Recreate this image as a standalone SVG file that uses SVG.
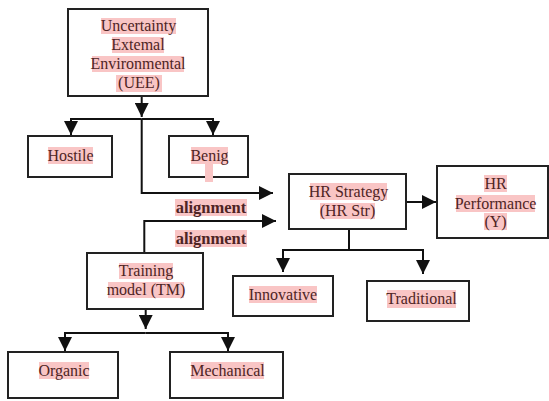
<svg xmlns="http://www.w3.org/2000/svg" width="549" height="401" viewBox="0 0 549 401">
<style>
.box{fill:#fff;stroke:#222;stroke-width:2}
.hl{fill:#f9c5c5}
.t{font-family:"Liberation Serif","Times New Roman",serif;font-size:16px;fill:#4e2424;text-anchor:middle}
.b{font-weight:bold;font-size:16.5px}
.c{fill:none;stroke:#111;stroke-width:2}
</style>
<defs>
<marker id="ah" markerUnits="userSpaceOnUse" markerWidth="14" markerHeight="14" refX="14" refY="7" orient="auto">
<path d="M0,0 L14,7 L0,14 z" fill="#111"/>
</marker>
</defs>
<rect width="549" height="401" fill="#fff"/>
<g id="connectors">
<path class="c" d="M141.7,96 V117" marker-end="url(#ah)"/>
<path class="c" d="M141.7,119 H71 V135" marker-end="url(#ah)"/>
<path class="c" d="M141.7,119 H213 V135" marker-end="url(#ah)"/>
<path class="c" d="M141.7,119 V193 H273" marker-end="url(#ah)"/>
<path class="c" d="M144.3,253 V221 H276" marker-end="url(#ah)"/>
<path class="c" d="M406,202 H436" marker-end="url(#ah)"/>
<path class="c" d="M349,229 V250 H283 V272" marker-end="url(#ah)"/>
<path class="c" d="M349,250 H423 V274" marker-end="url(#ah)"/>
<path class="c" d="M145.7,309 V329" marker-end="url(#ah)"/>
<path class="c" d="M145.7,333 H65 V351" marker-end="url(#ah)"/>
<path class="c" d="M145.7,333 H228 V351" marker-end="url(#ah)"/>
</g>
<g id="uee">
<rect class="box" x="68" y="9" width="140" height="87"/>
<rect class="hl" x="101" y="18" width="75" height="16"/>
<rect class="hl" x="112" y="37" width="52" height="16"/>
<rect class="hl" x="92" y="56" width="92" height="16"/>
<rect class="hl" x="116" y="75" width="46" height="17"/>
<text class="t" x="138.5" y="31">Uncertainty</text>
<text class="t" x="138" y="50">Extemal</text>
<text class="t" x="138" y="69">Environmental</text>
<text class="t" x="139" y="88">(UEE)</text>
</g>
<g id="hostile">
<rect class="box" x="28" y="136" width="84" height="41"/>
<rect class="hl" x="48" y="147" width="45" height="17"/>
<text class="t" x="70.5" y="160.5">Hostile</text>
</g>
<g id="benig">
<rect class="box" x="169" y="136" width="79" height="41"/>
<rect class="hl" x="191" y="147" width="37" height="17"/>
<rect class="hl" x="205" y="164" width="8" height="18"/>
<text class="t" x="209.5" y="160.5">Benig</text>
</g>
<g id="alignment-labels">
<rect class="hl" x="175" y="199" width="72" height="17"/>
<rect class="hl" x="175" y="230" width="72" height="17"/>
<text class="t b" x="211" y="213">alignment</text>
<text class="t b" x="211" y="244">alignment</text>
</g>
<g id="hrstr">
<rect class="box" x="289" y="174" width="117" height="55"/>
<rect class="hl" x="310" y="183" width="77" height="17"/>
<rect class="hl" x="320" y="203" width="55" height="16"/>
<text class="t" x="348.5" y="196.5">HR Strategy</text>
<text class="t" x="347.5" y="215.5">(HR Str)</text>
</g>
<g id="hrperf">
<rect class="box" x="437" y="166" width="111" height="72"/>
<rect class="hl" x="484" y="175" width="23" height="17"/>
<rect class="hl" x="456" y="195" width="79" height="17"/>
<rect class="hl" x="484" y="213" width="23" height="17"/>
<text class="t" x="495.5" y="188.5">HR</text>
<text class="t" x="495.5" y="208.5">Performance</text>
<text class="t" x="495.5" y="226.5">(Y)</text>
</g>
<g id="tm">
<rect class="box" x="87" y="253" width="116" height="56"/>
<rect class="hl" x="119" y="263" width="54" height="16"/>
<rect class="hl" x="108" y="282" width="76" height="16"/>
<text class="t" x="146" y="276">Training</text>
<text class="t" x="146" y="295">model (TM)</text>
</g>
<g id="innovative">
<rect class="box" x="233" y="276" width="100" height="40"/>
<rect class="hl" x="249" y="286" width="68" height="17"/>
<text class="t" x="283" y="299.5">Innovative</text>
</g>
<g id="traditional">
<rect class="box" x="367" y="281" width="102" height="40"/>
<rect class="hl" x="387" y="290" width="69" height="18"/>
<text class="t" x="421.5" y="304">Traditional</text>
</g>
<g id="organic">
<rect class="box" x="8" y="352" width="110" height="46"/>
<rect class="hl" x="39" y="362" width="50" height="17"/>
<text class="t" x="64" y="375.5">Organic</text>
</g>
<g id="mechanical">
<rect class="box" x="170" y="352" width="113" height="46"/>
<rect class="hl" x="191" y="362" width="73" height="17"/>
<text class="t" x="227.5" y="375.5">Mechanical</text>
</g>
</svg>
